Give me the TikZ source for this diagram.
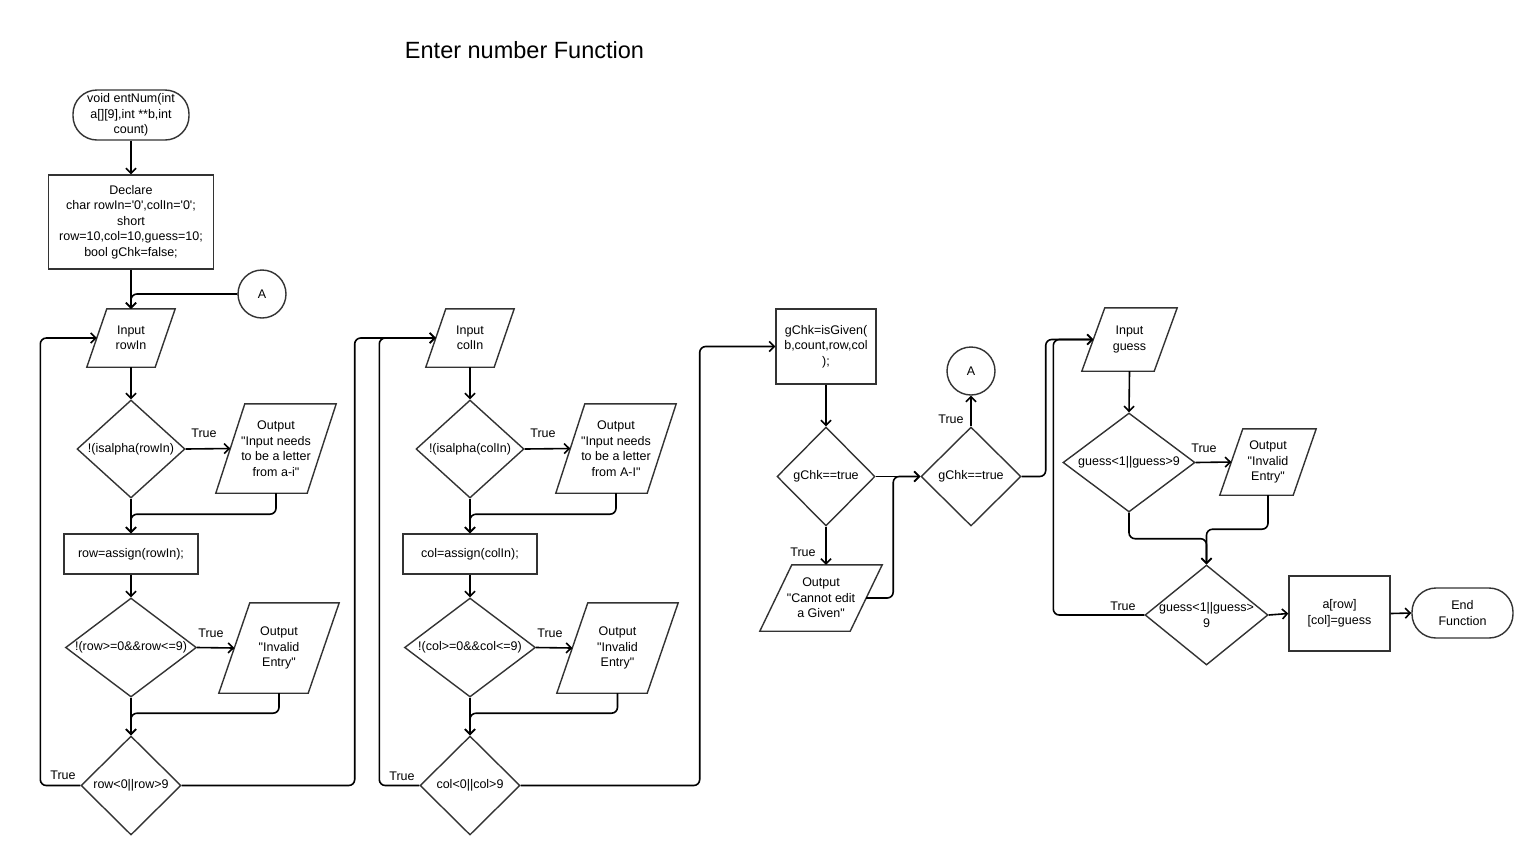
\documentclass[tikz,border=0pt]{standalone}
\usepackage{fontspec}
\newfontfamily\arial{Liberation Sans}
\usetikzlibrary{shapes.geometric,arrows.meta}
\definecolor{shp}{RGB}{51,51,51}
\newcommand\drawpara[2]{\draw[shpline] ([xshift=#2]#1.north west) -- ([xshift=#2]#1.north east) -- ([xshift=-#2]#1.south east) -- ([xshift=-#2]#1.south west) -- cycle;}
\tikzset{
 every node/.style={font=\arial\fontsize{12.5}{15.5}\selectfont},
 shpline/.style={draw=shp, line width=1.4pt, line join=miter},
 procbox/.style={rectangle, draw=shp, line width=1.4pt, align=center, inner sep=2pt},
 termbox/.style={rectangle, rounded corners=24pt, draw=shp, line width=1.4pt, align=center, inner sep=2pt},
 iobox/.style={rectangle, align=center, inner sep=0pt},
 decbox/.style={diamond, draw=shp, line width=1.4pt, inner sep=0pt},
 conncirc/.style={circle, draw=shp, line width=1.4pt, minimum size=48pt, inner sep=0pt},
 dtext/.style={align=center, inner sep=0pt},
 lbl/.style={inner sep=0pt},
 conn/.style={draw=black, line width=1.6pt, rounded corners=6pt, -{Straight Barb[length=5pt,width=10pt]}},
}
\begin{document}
\begin{tikzpicture}[x=1pt,y=-1pt]
\useasboundingbox[fill=white] (0,0) rectangle (1538,855);
\node[inner sep=0pt, font=\arial\fontsize{23.5}{27}\selectfont] (title) at (524.5,50) {Enter number Function};

% ---------- left column ----------
\node[termbox, minimum width=116pt, minimum height=50pt] (start) at (131,115) {void entNum(int\\a[][9],int **b,int\\count)};
\node[procbox, minimum width=165pt, minimum height=94pt] (decl) at (131,222) {Declare\\char rowIn='0',colIn='0';\\short\\row=10,col=10,guess=10;\\bool gChk=false;};
\node[conncirc] (A1) at (262,294) {A};
\node[iobox, minimum width=68pt, minimum height=58pt] (rowIn) at (131,338) {Input\\rowIn};
\drawpara{rowIn}{10pt}
\node[decbox, minimum width=108pt, minimum height=98pt] (d1) at (131,449) {};
\node[dtext] (d1t) at (d1) {!(isalpha(rowIn)};
\node[iobox, minimum width=91pt, minimum height=89pt] (out1) at (276,448.5) {Output\\"Input needs\\to be a letter\\from a-i"};
\drawpara{out1}{14.5pt}
\node[procbox, minimum width=134pt, minimum height=40pt] (rowbox) at (131,554) {row=assign(rowIn);};
\node[decbox, minimum width=131pt, minimum height=99pt] (d2) at (131,647.5) {};
\node[dtext] (d2t) at (d2) {!(row>=0\&\&row<=9)};
\node[iobox, minimum width=89pt, minimum height=90pt] (out2) at (279,648) {Output\\"Invalid\\Entry"};
\drawpara{out2}{15.5pt}
\node[decbox, minimum width=100pt, minimum height=99pt] (d3) at (131,785.5) {};
\node[dtext] (d3t) at (d3) {row<0||row>9};

% ---------- middle column ----------
\node[iobox, minimum width=68pt, minimum height=58pt] (colIn) at (470,338) {Input\\colIn};
\drawpara{colIn}{10pt}
\node[decbox, minimum width=108pt, minimum height=98pt] (d4) at (470,449) {};
\node[dtext] (d4t) at (d4) {!(isalpha(colIn)};
\node[iobox, minimum width=91pt, minimum height=89pt] (out3) at (616,448.5) {Output\\"Input needs\\to be a letter\\from A-I"};
\drawpara{out3}{14.5pt}
\node[procbox, minimum width=134pt, minimum height=40pt] (colbox) at (470,554) {col=assign(colIn);};
\node[decbox, minimum width=131pt, minimum height=99pt] (d5) at (470,647.5) {};
\node[dtext] (d5t) at (d5) {!(col>=0\&\&col<=9)};
\node[iobox, minimum width=90pt, minimum height=90pt] (out4) at (617.5,648) {Output\\"Invalid\\Entry"};
\drawpara{out4}{15.5pt}
\node[decbox, minimum width=100pt, minimum height=99pt] (d6) at (470,785.5) {};
\node[dtext] (d6t) at (d6) {col<0||col>9};

% ---------- gChk part ----------
\node[procbox, minimum width=100pt, minimum height=75pt] (gbox) at (826,346.5) {gChk=isGiven(\\b,count,row,col\\);};
\node[decbox, minimum width=98pt, minimum height=99pt] (d7) at (826,476.5) {};
\node[dtext] (d7t) at (d7) {gChk==true};
\node[iobox, minimum width=90pt, minimum height=66pt] (out5) at (821,598) {Output\\"Cannot edit\\a Given"};
\drawpara{out5}{16pt}
\node[decbox, minimum width=100pt, minimum height=99pt] (d8) at (971,476.5) {};
\node[dtext] (d8t) at (d8) {gChk==true};
\node[conncirc] (A2) at (971,371) {A};

% ---------- guess part ----------
\node[iobox, minimum width=72pt, minimum height=63pt] (guess) at (1129.5,339.5) {Input\\guess};
\drawpara{guess}{11.5pt}
\node[decbox, minimum width=132pt, minimum height=99pt] (d9) at (1129,462.5) {};
\node[dtext] (d9t) at (d9) {guess<1||guess>9};
\node[iobox, minimum width=73pt, minimum height=66pt] (out6) at (1268,462) {Output\\"Invalid\\Entry"};
\drawpara{out6}{11.5pt}
\node[decbox, minimum width=123pt, minimum height=100pt] (d10) at (1206.5,615) {};
\node[dtext] (d10t) at (d10) {guess<1||guess>\\9};
\node[procbox, minimum width=101pt, minimum height=75pt] (abox) at (1339.5,613.5) {a[row]\\{}[col]=guess};
\node[termbox, minimum width=101pt, minimum height=50pt] (endn) at (1462.5,613) {End\\Function};

% ---------- labels ----------
\node[lbl] (t1) at (204,433) {True};
\node[lbl] (t2) at (211,633) {True};
\node[lbl] (t3) at (63,775) {True};
\node[lbl] (t4) at (543,433) {True};
\node[lbl] (t5) at (550,633) {True};
\node[lbl] (t6) at (402,776) {True};
\node[lbl] (t7) at (803,552) {True};
\node[lbl] (t8) at (951,419) {True};
\node[lbl] (t9) at (1204,448) {True};
\node[lbl] (t10) at (1123,606) {True};

% ---------- connectors ----------
\draw[conn] (start.south) -- (decl.north);
\draw[conn] (decl.south) -- (rowIn.north);
\draw[conn] (A1.west) -| (rowIn.north);
\draw[conn] (rowIn.south) -- (d1.north);
\draw[conn] (d1.east) -- (out1.west);
\draw[conn] (d1.south) -- (rowbox.north);
\draw[conn] (out1.south) -- ++(0,21) -| (rowbox.north);
\draw[conn] (rowbox.south) -- (d2.north);
\draw[conn] (d2.east) -- (out2.west);
\draw[conn] (d2.south) -- (d3.north);
\draw[conn] (out2.south) -- ++(0,20) -| (d3.north);
\draw[conn] (d3.west) -- ++(-40,0) |- (rowIn.west);
\draw[conn] (d3.east) -- ++(173,0) |- (colIn.west);

\draw[conn] (colIn.south) -- (d4.north);
\draw[conn] (d4.east) -- (out3.west);
\draw[conn] (d4.south) -- (colbox.north);
\draw[conn] (out3.south) -- ++(0,21) -| (colbox.north);
\draw[conn] (colbox.south) -- (d5.north);
\draw[conn] (d5.east) -- (out4.west);
\draw[conn] (d5.south) -- (d6.north);
\draw[conn] (out4.south) -- ++(0,20) -| (d6.north);
\draw[conn] (d6.west) -- ++(-40,0) |- (colIn.west);
\draw[conn] (d6.east) -- ++(179,0) |- (gbox.west);

\draw[conn] (gbox.south) -- (d7.north);
\draw[conn] (d7.south) -- (d7.south |- out5.north);
\draw[conn] (d7.east) -- (d8.west);
\draw[conn] (out5.east) -- ++(27,0) |- (d8.west);
\draw[conn] (d8.north) -- (A2.south);
\draw[conn] (d8.east) -- ++(24,0) |- (guess.west);

\draw[conn] (guess.south) -- (d9.north);
\draw[conn] (d9.east) -- (out6.west);
\draw[conn] (d9.south) -- ++(0,26) -| (d10.north);
\draw[conn] (out6.south) -- ++(0,34) -| (d10.north);
\draw[conn] (d10.west) -- ++(-91,0) |- (guess.west);
\draw[conn] (d10.east) -- (abox.west);
\draw[conn] (abox.east) -- (endn.west);
\end{tikzpicture}
\end{document}
